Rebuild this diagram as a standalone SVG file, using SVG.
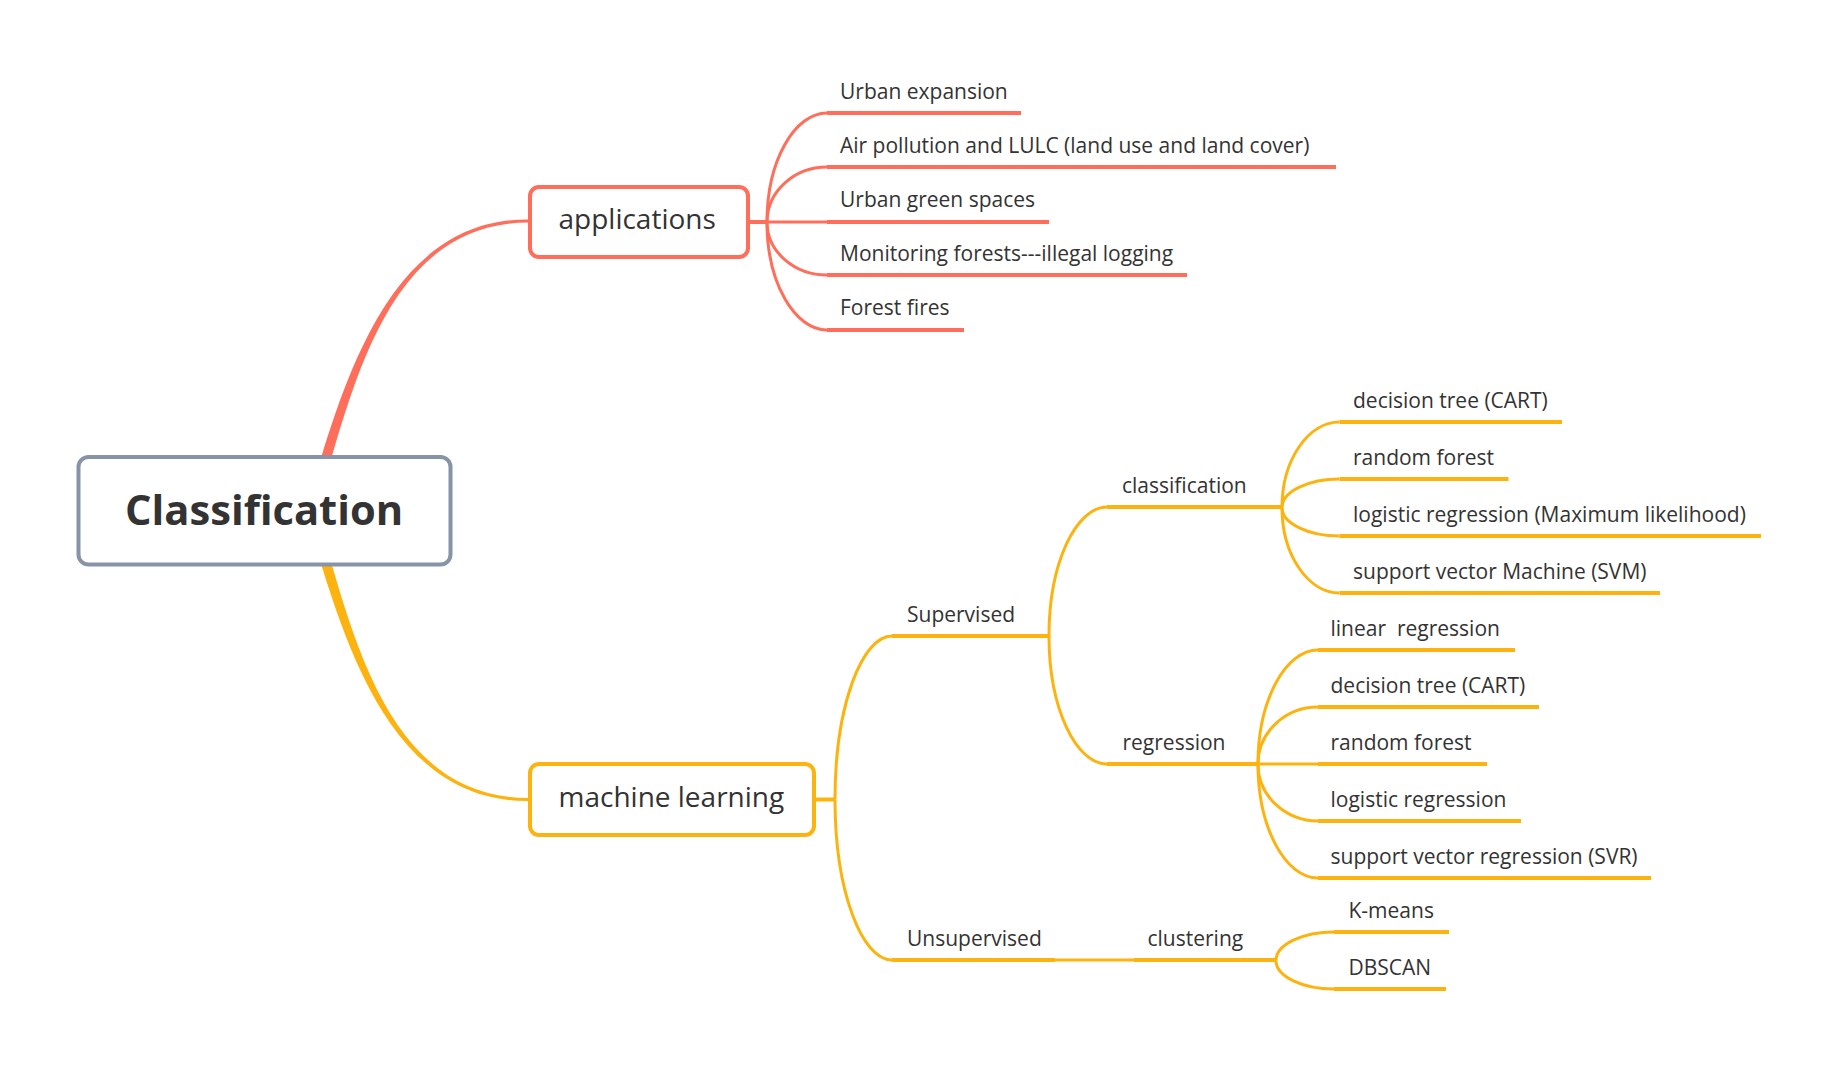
<svg xmlns="http://www.w3.org/2000/svg" width="1836" height="1066" viewBox="0 0 1836 1066">
<style>
text{font-family:"Open Sans","Liberation Sans",sans-serif;fill:#333333}
.leaf{font-size:21px}
.main{font-size:28px}
.root{font-size:41.7px;font-weight:700}
.r{stroke:#FE6E5A;fill:none}
.y{stroke:#FDB30F;fill:none}
.cv{stroke-width:3}
.ul{stroke-width:4}
.box{fill:#ffffff;stroke-width:4}
</style>
<rect width="1836" height="1066" fill="#ffffff"/>
<g id="connectors">
  <path d="M319.3 498.4 L331.3 458.4 C363.3 348.1 405 223 528 222.5 L528 219.5 C405 219 355.7 345.9 321.7 455.6 L309.7 495.6 Z" fill="#FE6E5A"/>
  <path d="M319.3 523.1 L331.3 563.1 C363.3 673.4 405 797.5 528 798 L528 801 C405 801.5 355.7 675.6 321.7 565.9 L309.7 525.9 Z" fill="#FDB30F"/>
  <!-- applications -->
  <g class="r">
    <path class="ul" d="M748 222 H767"/>
    <path class="cv" d="M767 222 C767 159.9 795 113 827 113"/>
    <path class="cv" d="M767 222 C767 190.7 795 167 827 167"/>
    <path class="cv" d="M767 222 H827"/>
    <path class="cv" d="M767 222 C767 252.2 795 275 827 275"/>
    <path class="cv" d="M767 222 C767 283.6 795 330 827 330"/>
    <path class="ul" d="M827 113 H1021"/>
    <path class="ul" d="M827 167 H1336"/>
    <path class="ul" d="M827 222 H1049"/>
    <path class="ul" d="M827 275 H1187"/>
    <path class="ul" d="M827 330 H964"/>
  </g>
  <!-- machine learning -->
  <g class="y">
    <path class="ul" d="M814 799.5 H835"/>
    <path class="cv" d="M835 799.5 C835 706.3 861.8 636 892 636"/>
    <path class="cv" d="M835 799.5 C835 891 861.8 960 892 960"/>
    <path class="ul" d="M892 636 H1049"/>
    <path class="ul" d="M892 960 H1055"/>
    <path class="cv" d="M1055 960 H1134"/>
    <path class="ul" d="M1134 960 H1276"/>
    <path class="cv" d="M1049 636 C1049 562.5 1076.3 507 1107 507"/>
    <path class="cv" d="M1049 636 C1049 709 1076.3 764 1107 764"/>
    <path class="ul" d="M1107 507 H1282"/>
    <path class="ul" d="M1107 764 H1258"/>
    <path class="cv" d="M1282 507.5 C1282 458.8 1309 422 1339.5 422"/>
    <path class="cv" d="M1282 507.5 C1282 491.3 1309 479 1339.5 479"/>
    <path class="cv" d="M1282 507.5 C1282 523.7 1309 536 1339.5 536"/>
    <path class="cv" d="M1282 507.5 C1282 556.2 1309 593 1339.5 593"/>
    <path class="ul" d="M1339.5 422 H1562"/>
    <path class="ul" d="M1339.5 479 H1508.5"/>
    <path class="ul" d="M1339.5 536 H1761"/>
    <path class="ul" d="M1339.5 593 H1660"/>
    <path class="cv" d="M1258 764 C1258 699 1286 650 1318 650"/>
    <path class="cv" d="M1258 764 C1258 731.5 1286 707 1318 707"/>
    <path class="cv" d="M1258 764 H1318"/>
    <path class="cv" d="M1258 764 C1258 796.5 1286 821 1318 821"/>
    <path class="cv" d="M1258 764 C1258 829 1286 878 1318 878"/>
    <path class="ul" d="M1318 650 H1515"/>
    <path class="ul" d="M1318 707 H1539"/>
    <path class="ul" d="M1318 764 H1487"/>
    <path class="ul" d="M1318 821 H1521"/>
    <path class="ul" d="M1318 878 H1651"/>
    <path class="cv" d="M1276 960.5 C1276 944.3 1303 932 1334 932"/>
    <path class="cv" d="M1276 960.5 C1276 976.7 1303 989 1334 989"/>
    <path class="ul" d="M1334 932 H1449"/>
    <path class="ul" d="M1334 989 H1446"/>
  </g>
</g>
<g id="root">
  <rect x="78.5" y="457" width="372" height="107.5" rx="10" class="box" stroke="#8793A6"/>
  <text class="root" x="125" y="525">Classification</text>
</g>
<g id="applications">
  <rect x="530" y="187" width="218" height="70" rx="9" class="box" stroke="#FE6E5A"/>
  <text class="main" x="558.5" y="229.3">applications</text>
</g>
<g id="machine-learning">
  <rect x="530" y="764" width="284" height="71" rx="9" class="box" stroke="#FDB30F"/>
  <text class="main" x="558.5" y="806.7">machine learning</text>
</g>
<g id="app-leaves">
  <g id="urban-expansion"><text class="leaf" x="840" y="98.5">Urban expansion</text></g>
  <g id="air-pollution"><text class="leaf" x="840" y="152.5">Air pollution and LULC (land use and land cover)</text></g>
  <g id="urban-green"><text class="leaf" x="840" y="207">Urban green spaces</text></g>
  <g id="monitoring"><text class="leaf" x="840" y="260.5">Monitoring forests---illegal logging</text></g>
  <g id="forest-fires"><text class="leaf" x="840" y="315">Forest fires</text></g>
</g>
<g id="ml-subtopics">
  <g id="supervised"><text class="leaf" x="907" y="621.5">Supervised</text></g>
  <g id="unsupervised"><text class="leaf" x="907" y="945.5">Unsupervised</text></g>
  <g id="classification"><text class="leaf" x="1122" y="492.5">classification</text></g>
  <g id="regression"><text class="leaf" x="1122.5" y="749.5">regression</text></g>
  <g id="clustering"><text class="leaf" x="1147.5" y="945.5">clustering</text></g>
</g>
<g id="class-leaves">
  <g id="c-dt"><text class="leaf" x="1353" y="407.5">decision tree (CART)</text></g>
  <g id="c-rf"><text class="leaf" x="1353" y="464.5">random forest</text></g>
  <g id="c-lr"><text class="leaf" x="1353" y="521.5">logistic regression (Maximum likelihood)</text></g>
  <g id="c-svm"><text class="leaf" x="1353" y="578.5">support vector Machine (SVM)</text></g>
</g>
<g id="regr-leaves">
  <g id="r-lin"><text class="leaf" x="1330.5" y="635.5" xml:space="preserve">linear  regression</text></g>
  <g id="r-dt"><text class="leaf" x="1330.5" y="692.5">decision tree (CART)</text></g>
  <g id="r-rf"><text class="leaf" x="1330.5" y="749.5">random forest</text></g>
  <g id="r-lr"><text class="leaf" x="1330.5" y="806.5">logistic regression</text></g>
  <g id="r-svr"><text class="leaf" x="1330.5" y="863.5">support vector regression (SVR)</text></g>
</g>
<g id="cluster-leaves">
  <g id="k-means"><text class="leaf" x="1348.5" y="917.5">K-means</text></g>
  <g id="dbscan"><text class="leaf" x="1348.5" y="974.5">DBSCAN</text></g>
</g>
</svg>
